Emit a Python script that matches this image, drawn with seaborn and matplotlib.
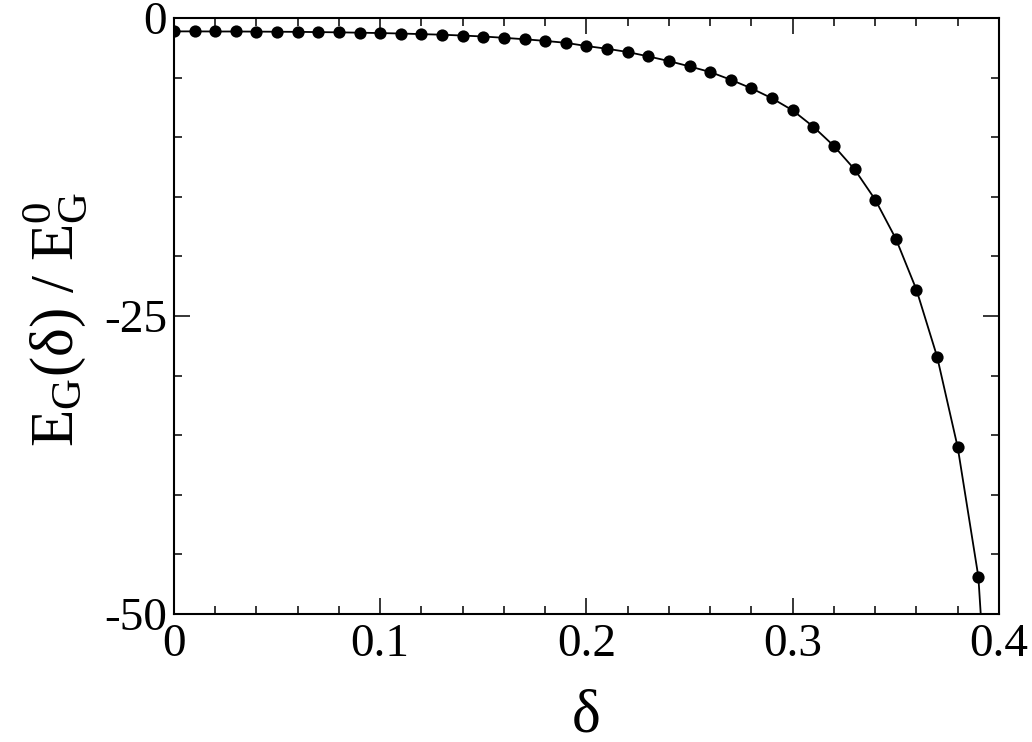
import matplotlib
matplotlib.use("Agg")
import matplotlib.pyplot as plt
import seaborn as sns
from matplotlib.ticker import MultipleLocator

# data
delta = [0.00, 0.01, 0.02, 0.03, 0.04, 0.05, 0.06, 0.07, 0.08, 0.09,
         0.10, 0.11, 0.12, 0.13, 0.14, 0.15, 0.16, 0.17, 0.18, 0.19,
         0.20, 0.21, 0.22, 0.23, 0.24, 0.25, 0.26, 0.27, 0.28, 0.29,
         0.30, 0.31, 0.32, 0.33, 0.34, 0.35, 0.36, 0.37, 0.38, 0.39, 0.40]
energy = [-1.12, -1.12, -1.13, -1.13, -1.14, -1.15, -1.16, -1.18, -1.20, -1.23,
          -1.26, -1.30, -1.35, -1.40, -1.47, -1.55, -1.66, -1.78, -1.92, -2.08,
          -2.35, -2.58, -2.85, -3.22, -3.61, -4.06, -4.53, -5.18, -5.90, -6.74,
          -7.75, -9.12, -10.74, -12.70, -15.24, -18.52, -22.80, -28.41, -36.02, -46.87, -74.0]

xticks = [0.0, 0.1, 0.2, 0.3, 0.4]
xtick_labels = ["0", "0.1", "0.2", "0.3", "0.4"]
yticks = [0, -25, -50]
ytick_labels = ["0", "-25", "-50"]

sns.set_style("ticks")
plt.rcParams["font.family"] = ["Liberation Serif", "DejaVu Serif"]
plt.rcParams["mathtext.fontset"] = "custom"
plt.rcParams["mathtext.rm"] = "Liberation Serif"
plt.rcParams["mathtext.it"] = "Liberation Serif:italic"
plt.rcParams["text.color"] = "black"
plt.rcParams["axes.labelcolor"] = "black"
plt.rcParams["xtick.color"] = "black"
plt.rcParams["ytick.color"] = "black"

fig = plt.figure(figsize=(10.32, 7.42), dpi=100)
ax = fig.add_axes([0.1686, 0.1725, 0.968 - 0.1686, 0.9757 - 0.1725])

sns.lineplot(x=delta, y=energy, ax=ax, color="black", linewidth=1.3,
             marker="o", markersize=8.8, markeredgewidth=0)

ax.set_xlim(0, 0.4)
ax.set_ylim(-50, 0)
ax.set_xticks(xticks, xtick_labels)
ax.set_yticks(yticks, ytick_labels)
ax.xaxis.set_minor_locator(MultipleLocator(0.02))
ax.yaxis.set_minor_locator(MultipleLocator(5))

ax.tick_params(which="both", direction="in", top=True, right=True, width=1.1,
               colors="black")
ax.tick_params(which="major", length=11.5, labelsize=34)
ax.tick_params(axis="x", which="major", pad=7)
ax.tick_params(axis="y", which="major", pad=5)
ax.tick_params(which="minor", length=5.8)
for s in ax.spines.values():
    s.set_linewidth(1.5)
    s.set_color("black")

ax.set_xlabel("δ", fontsize=44, color="black")
ax.set_ylabel(r"$\mathrm{E_G(δ)\ /\ E_G^0}$", fontsize=44, color="black")
ax.xaxis.set_label_coords(0.5, -0.125)
ax.yaxis.set_label_coords(-0.103, 0.495)

plt.savefig("out.png", dpi=100)
plt.close()
